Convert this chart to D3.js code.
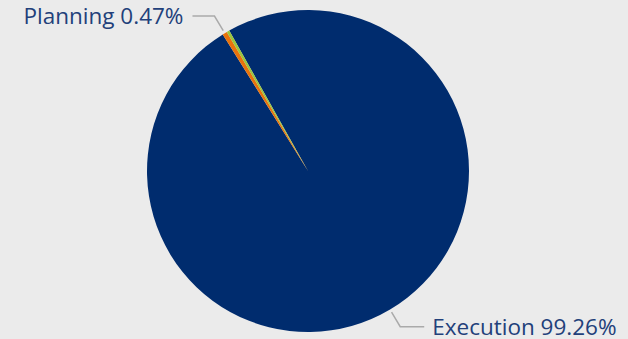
<!DOCTYPE html>
<html lang="en">
<head>
<meta charset="UTF-8">
<title>Phase share</title>
<script src="https://d3js.org/d3.v7.min.js"></script>
<style>
    html, body { margin: 0; padding: 0; background: #ebebeb; }
    .lbl { font-family: "Open Sans", sans-serif; font-size: 22.5px; fill: #22407a; }
</style>
</head>
<body>
<svg width="628" height="339"></svg>
<script>
    // data
    const phases = ["Execution", "Planning", "Initiation"];
    const shares = [99.26, 0.47, 0.27];
    const colors = ["#002c6e", "#e8730c", "#9bc53d"];
    const labelled = [true, true, false];

    const svg = d3.select("svg");
    const cx = 308, cy = 171, r = 161;
    const start = 330.7 * Math.PI / 180;

    const pie = d3.pie().sort(null)
        .startAngle(start).endAngle(start + 2 * Math.PI)
        .value(d => d.v);
    const arcs = pie(phases.map((p, i) => ({name: p, v: shares[i], c: colors[i], lab: labelled[i]})));

    const arc = d3.arc().innerRadius(0).outerRadius(r);
    const g = svg.append("g").attr("transform", `translate(${cx},${cy})`);

    g.selectAll("path.slice")
        .data(arcs)
        .enter()
        .append("path")
        .attr("class", "slice")
        .attr("d", arc)
        .attr("fill", d => d.data.c);

    // leader lines + labels
    const pt = (a, rad) => [Math.sin(a) * rad, -Math.cos(a) * rad];
    arcs.filter(d => d.data.lab).forEach(d => {
        const a = (d.startAngle + d.endAngle) / 2;
        const right = Math.sin(a) > 0;
        const p0 = pt(a, r + 3);
        const p1 = pt(a, 181);
        const p2 = [p1[0] + (right ? 24 : -22), p1[1]];
        g.append("polyline")
            .attr("points", [p0, p1, p2].map(p => p.join(",")).join(" "))
            .attr("fill", "none")
            .attr("stroke", "#aaaaaa")
            .attr("stroke-width", 1.5);
        g.append("text")
            .attr("class", "lbl")
            .attr("x", p2[0] + (right ? 8 : -9))
            .attr("y", p2[1])
            .attr("dy", "0.36em")
            .attr("text-anchor", right ? "start" : "end")
            .text(`${d.data.name} ${d3.format(".2f")(d.data.v)}%`);
    });
</script>
</body>
</html>
